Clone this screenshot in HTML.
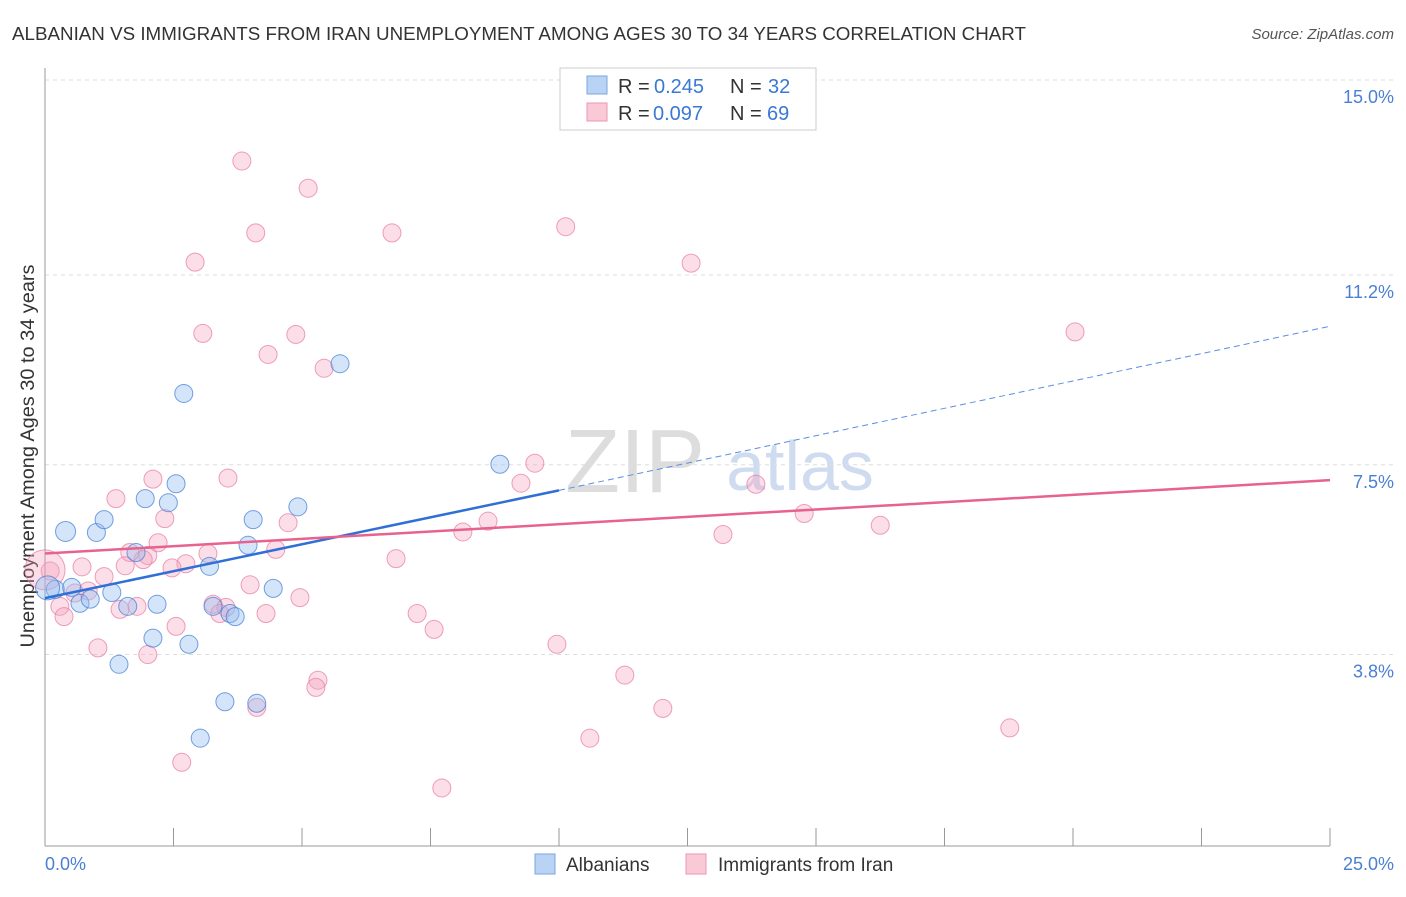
<!DOCTYPE html>
<html><head><meta charset="utf-8"><style>
body{margin:0;background:#fff;font-family:"Liberation Sans",sans-serif;}
svg text{font-family:"Liberation Sans",sans-serif;}
</style></head><body>
<svg width="1406" height="892" id="chart">
<text x="12" y="40" font-size="18" fill="#333" textLength="1014" lengthAdjust="spacingAndGlyphs">ALBANIAN VS IMMIGRANTS FROM IRAN UNEMPLOYMENT AMONG AGES 30 TO 34 YEARS CORRELATION CHART</text>
<text x="1394" y="39" font-size="15" fill="#555" font-style="italic" text-anchor="end">Source: ZipAtlas.com</text>
<text x="635" y="492" font-size="90" fill="#ddd" font-family="Liberation Serif" text-anchor="middle">ZIP</text>
<text x="800" y="490" font-size="70" fill="#cfdcf0" text-anchor="middle">atlas</text>
<g id="grid"></g>
<line x1="45" y1="68" x2="45" y2="846" stroke="#999"/>
<line x1="45" y1="846" x2="1330" y2="846" stroke="#999"/>
<g id="xticks"></g>
<text x="34" y="456" font-size="19" fill="#333" text-anchor="middle" transform="rotate(-90 34 456)" textLength="383" lengthAdjust="spacingAndGlyphs">Unemployment Among Ages 30 to 34 years</text>
<text x="45" y="870" font-size="18" fill="#4a7fd4">0.0%</text>
<text x="1394" y="870" font-size="18" fill="#4a7fd4" text-anchor="end">25.0%</text>
<g id="pts"></g>
<g id="lines"></g>
<g>
<rect x="560" y="68" width="256" height="62" fill="#fff" stroke="#ccc"/>
<rect x="587" y="76" width="20" height="18" fill="#b9d3f5" stroke="#7aa5e0"/>
<rect x="587" y="103" width="20" height="18" fill="#f9c9d8" stroke="#ec97b3"/>
<text x="618" y="93" font-size="20" fill="#333">R =</text><text x="654" y="93" font-size="20" fill="#3a78d4">0.245</text>
<text x="730" y="93" font-size="20" fill="#333">N =</text><text x="768" y="93" font-size="20" fill="#3a78d4">32</text>
<text x="618" y="120" font-size="20" fill="#333">R =</text><text x="653" y="120" font-size="20" fill="#3a78d4">0.097</text>
<text x="730" y="120" font-size="20" fill="#333">N =</text><text x="767" y="120" font-size="20" fill="#3a78d4">69</text>
</g>
<g>
<rect x="535" y="854" width="20" height="20" fill="#b9d3f5" stroke="#7aa5e0"/>
<text x="566" y="871" font-size="19" fill="#333">Albanians</text>
<rect x="686" y="854" width="20" height="20" fill="#f9c9d8" stroke="#ec97b3"/>
<text x="718" y="871" font-size="19" fill="#333">Immigrants from Iran</text>
</g>
</svg>
<script>
const yTicks=[15.0,11.2,7.5,3.8];
const yTickLabels=["15.0%","11.2%","7.5%","3.8%"];
const xTicks=[0,2.5,5,7.5,10,12.5,15,17.5,20,22.5,25];
const blueX=[0.4,1.0,1.15,1.95,2.4,2.55,2.7,5.74,4.92,4.05,3.95,3.2,1.77,0.2,0.52,0.68,0.88,1.3,1.61,2.18,2.1,2.8,3.27,3.6,3.7,4.44,1.44,3.5,4.12,3.02,8.85,0.05];
const blueY=[6.2,6.18,6.43,6.84,6.76,7.13,8.89,9.47,6.68,6.43,5.93,5.52,5.79,5.07,5.11,4.8,4.88,5.01,4.74,4.78,4.12,4.0,4.74,4.6,4.54,5.09,3.61,2.88,2.85,2.17,7.51,5.1];
const pinkX=[3.83,5.12,4.1,6.75,10.13,2.92,12.57,3.07,4.88,4.34,5.43,20.04,9.53,9.26,13.83,3.56,2.1,1.38,2.33,4.73,8.62,8.13,13.19,14.77,16.25,6.83,4.49,3.17,2.0,1.91,2.2,1.65,0.72,1.56,1.15,2.74,2.47,0.1,0.84,0.58,0.29,0.37,1.46,1.79,3.27,3.52,3.4,3.99,4.3,4.96,7.24,7.57,2.55,1.03,2.0,9.96,11.28,5.31,5.27,4.12,12.02,10.6,18.77,2.66,7.72,0.0];
const pinkY=[13.42,12.89,12.02,12.02,12.14,11.45,11.43,10.06,10.04,9.65,9.38,10.09,7.53,7.14,7.12,7.24,7.22,6.84,6.45,6.37,6.4,6.19,6.14,6.55,6.32,5.67,5.85,5.77,5.73,5.65,5.98,5.79,5.51,5.53,5.32,5.57,5.49,5.43,5.04,5.0,4.74,4.54,4.68,4.74,4.78,4.72,4.6,5.16,4.6,4.91,4.6,4.29,4.35,3.93,3.8,4.0,3.4,3.3,3.16,2.77,2.75,2.17,2.37,1.7,1.2,5.45];
const pinkR=[9,9,9,9,9,9,9,9,9,9,9,9,9,9,9,9,9,9,9,9,9,9,9,9,9,9,9,9,9,9,9,9,9,9,9,9,9,9,9,9,9,9,9,9,9,9,9,9,9,9,9,9,9,9,9,9,9,9,9,9,9,9,9,9,9,20];
const blueR=[10,9,9,9,9,9,9,9,9,9,9,9,9,9,9,9,9,9,9,9,9,9,9,9,9,9,9,9,9,9,9,12];
const blueLine=[[0,4.9],[10,7.0],[25,10.2]];
const pinkLine=[[0,5.77],[25,7.2]];
const NS="http://www.w3.org/2000/svg";
const X=v=>45+v*51.4, Y=v=>80+(15-v)*51.3;
function mk(t,a,p){const e=document.createElementNS(NS,t);for(const k in a)e.setAttribute(k,a[k]);p.appendChild(e);return e;}
const grid=document.getElementById('grid');
yTicks.forEach((t,i)=>{
 const l=mk('line',{x1:45,x2:1394,y1:Y(t),y2:Y(t),stroke:'#ddd','stroke-dasharray':'4,4'},grid);
 
 
 const tx=mk('text',{x:1394,y:Y(t)+23,'font-size':18,fill:'#4a7fd4','text-anchor':'end'},grid);
 tx.textContent=yTickLabels[i];
 
 
});
const xt=document.getElementById('xticks');
xTicks.forEach(t=>{
 const l=mk('line',{x1:X(t),x2:X(t),y1:828,y2:846,stroke:'#999'},xt);
 
 
});
const pts=document.getElementById('pts');
pinkX.forEach((x,i)=>{
 const c=mk('circle',{cx:X(x),cy:Y(pinkY[i]),r:pinkR[i],fill:'rgba(244,160,188,0.35)',stroke:'rgba(232,120,160,0.7)','stroke-width':1},pts);
 
 
});
blueX.forEach((x,i)=>{
 const c=mk('circle',{cx:X(x),cy:Y(blueY[i]),r:blueR[i],fill:'rgba(150,190,240,0.4)',stroke:'rgba(70,130,215,0.75)','stroke-width':1},pts);
 
 
});
const ln=document.getElementById('lines');
let a=mk('line',{x1:X(blueLine[0][0]),y1:Y(blueLine[0][1]),x2:X(blueLine[1][0]),y2:Y(blueLine[1][1]),stroke:'#2f6fd6','stroke-width':2.5},ln);


a=mk('line',{x1:X(blueLine[1][0]),y1:Y(blueLine[1][1]),x2:X(blueLine[2][0]),y2:Y(blueLine[2][1]),stroke:'#5a8fe0','stroke-width':1,'stroke-dasharray':'6,4'},ln);


a=mk('line',{x1:X(pinkLine[0][0]),y1:Y(pinkLine[0][1]),x2:X(pinkLine[1][0]),y2:Y(pinkLine[1][1]),stroke:'#e8628e','stroke-width':2.5},ln);


</script>
</body></html>
